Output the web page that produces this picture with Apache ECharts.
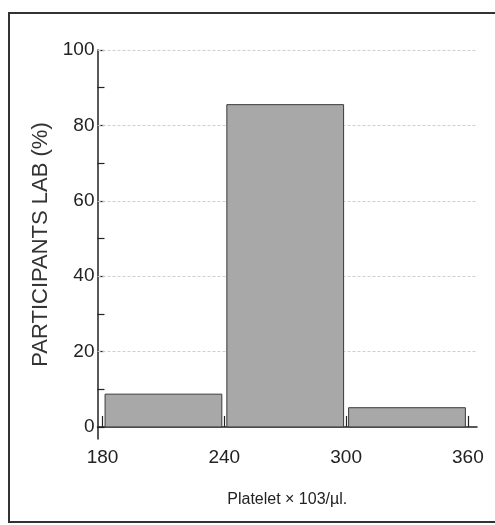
<!DOCTYPE html>
<html><head><meta charset="utf-8">
<script src="https://cdn.jsdelivr.net/npm/echarts@6/dist/echarts.min.js"></script>
<style>html,body{margin:0;padding:0;background:#fff}#c{width:495px;height:525px}</style>
</head><body><div id="c"></div>
<script>
// Histogram bins (Platelet × 10^3/µl) and percentages
const binStarts = [180, 240, 300];
const binEnds = [240, 300, 360];
const percents = [8.7, 85.5, 5.1];
const xTickValues = [180, 240, 300, 360];
const yTickValues = [0, 10, 20, 30, 40, 50, 60, 70, 80, 90, 100];
const yLabelValues = [0, 20, 40, 60, 80, 100];
const gridValues = [20, 40, 60, 80, 100];

const FONT = "'Liberation Sans Narrow', 'Liberation Sans', Arial, sans-serif";
const chart = echarts.init(document.getElementById('c'), null, {renderer: 'canvas'});
const data = binStarts.map((s, i) => [s, binEnds[i], percents[i]]);

chart.setOption({
  animation: false,
  backgroundColor: '#ffffff',
  graphic: [{
    type: 'rect', shape: {x: 9, y: 13, width: 500, height: 509},
    style: {fill: 'none', stroke: '#333', lineWidth: 2}, silent: true, z: 0
  }],
  grid: {left: 97.5, right: 18, top: 50, bottom: 86},
  xAxis: {
    type: 'value', min: 177.5, max: 364.5,
    name: 'Platelet × 103/µl.', nameLocation: 'middle', nameGap: 53,
    nameTextStyle: {fontFamily: FONT, fontSize: 16, color: '#222'},
    axisLine: {show: true, lineStyle: {color: '#222', width: 1.5}},
    axisTick: {show: true, inside: true, length: 11, customValues: xTickValues, lineStyle: {color: '#222', width: 1.2}},
    axisLabel: {customValues: xTickValues, fontFamily: FONT, fontSize: 19, color: '#222', margin: 9},
    splitLine: {show: false}
  },
  yAxis: {
    type: 'value', min: -3.2, max: 100,
    name: 'PARTICIPANTS LAB (%)', nameLocation: 'middle', nameGap: 45, nameRotate: 90,
    nameTextStyle: {fontFamily: "'Liberation Sans', Arial, sans-serif", fontSize: 22, color: '#333'},
    axisLine: {show: true, onZero: false, lineStyle: {color: '#222', width: 1.5}},
    axisTick: {show: true, inside: true, length: 7, customValues: yTickValues, lineStyle: {color: '#222', width: 1.2}},
    axisLabel: {customValues: yLabelValues, fontFamily: FONT, fontSize: 19, color: '#222', margin: 3},
    splitLine: {show: false}
  },
  series: [{
    type: 'custom',
    renderItem: function (params, api) {
      const p0 = api.coord([api.value(0), 0]);
      const p1 = api.coord([api.value(1), api.value(2)]);
      const inset = 2.5;
      return {
        type: 'rect',
        shape: {x: p0[0] + inset, y: p1[1], width: p1[0] - p0[0] - 2 * inset, height: p0[1] - p1[1]},
        style: {fill: '#a8a8a8', stroke: '#3a3a3a', lineWidth: 1}
      };
    },
    encode: {x: [0, 1], y: 2},
    data: data,
    z: 3,
    markLine: {
      silent: true, symbol: 'none', label: {show: false},
      lineStyle: {color: '#cfcfcf', type: [3, 2], width: 1},
      data: gridValues.map(v => ({yAxis: v})),
      z: 1
    }
  }]
});
</script></body></html>
